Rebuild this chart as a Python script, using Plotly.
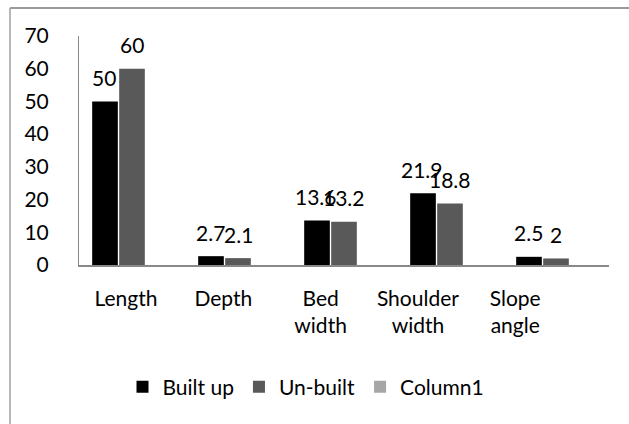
import plotly.graph_objects as go

categories = ["Length", "Depth", "Bed width", "Shoulder width", "Slope angle"]
built_up = [50, 2.7, 13.6, 21.9, 2.5]
un_built = [60, 2.1, 13.2, 18.8, 2]
column1 = [None, None, None, None, None]
y_ticks = [0, 10, 20, 30, 40, 50, 60, 70]

FONT = "Lato"
FS = 21
W, H = 629, 424
# target pixel positions in the screenshot (body margin removed by post_script)
PX_L, PX_R, PX_T, PX_B = 79, 609, 36, 265
L, T = PX_L, PX_T
R = W - PX_R
B = H - PX_B
pw, ph = W - L - R, H - T - B


def px_to_paper_x(px):
    return (px - PX_L) / pw


def px_to_paper_y(py):
    return (PX_B - py) / ph


fig = go.Figure()
fig.add_bar(name="Built up", x=categories, y=built_up, marker_color="#000000", marker_line_width=0)
fig.add_bar(name="Un-built", x=categories, y=un_built, marker_color="#595959", marker_line_width=0)
fig.add_bar(name="Column1", x=categories, y=column1, marker_color="#a6a6a6", marker_line_width=0)

# data labels
for vals, shift in ((built_up, -28), (un_built, 0)):
    for c, v in zip(categories, vals):
        fig.add_annotation(x=c, y=v, xref="x", yref="y", text=str(v), showarrow=False,
                           xshift=shift, yshift=24, yanchor="middle",
                           font=dict(family=FONT, size=FS, color="#000000"))

# category labels axis (slightly compressed spacing as in original)
k = 97.3
r0 = -(126 - PX_L) / k
fig.update_layout(
    xaxis2=dict(overlaying="x", anchor="y", side="bottom", type="linear",
                range=[r0, r0 + pw / k], tickmode="array",
                tickvals=list(range(len(categories))),
                ticktext=[c.replace(" ", "<br>") for c in categories],
                showline=False, showgrid=False, zeroline=False, ticks="",
                ticklabelstandoff=19, automargin=False,
                tickfont=dict(family=FONT, size=FS, color="#000000")),
)
fig.add_scatter(x=list(range(len(categories))), y=[None] * len(categories), xaxis="x2",
                showlegend=False, hoverinfo="skip", mode="markers")

fig.update_layout(
    width=W, height=H,
    margin=dict(l=L, r=R, t=T, b=B, autoexpand=False),
    paper_bgcolor="white", plot_bgcolor="white",
    barmode="group", bargap=0.236, bargroupgap=0.05,
    font=dict(family=FONT, size=FS, color="#000000"),
    xaxis=dict(type="category", range=[-0.5, len(categories) - 0.5], showticklabels=False,
               showline=True, linecolor="#898989", linewidth=1.5, ticks="", showgrid=False,
               automargin=False),
    yaxis=dict(range=[0, 70], tickmode="array", tickvals=y_ticks, showgrid=False,
               showline=True, linecolor="#898989", linewidth=1, ticks="", zeroline=False,
               ticklabelstandoff=25, automargin=False,
               tickfont=dict(family=FONT, size=FS, color="#000000")),
    legend=dict(orientation="h", x=px_to_paper_x(306), xanchor="center",
                y=px_to_paper_y(387), yanchor="middle",
                font=dict(family=FONT, size=FS, color="#000000"), traceorder="normal"),
    showlegend=True,
)

# chart border (left and top visible in original)
fig.add_shape(type="line", xref="paper", yref="paper",
              x0=px_to_paper_x(10), x1=px_to_paper_x(W + 30),
              y0=px_to_paper_y(8), y1=px_to_paper_y(8),
              line=dict(color="#9a9a9a", width=2), layer="above")
fig.add_shape(type="line", xref="paper", yref="paper",
              x0=px_to_paper_x(10), x1=px_to_paper_x(10),
              y0=px_to_paper_y(8), y1=px_to_paper_y(H + 30),
              line=dict(color="#a0a0a0", width=1.5), layer="above")

fig.write_html("out.html", config={"displayModeBar": False},
               post_script="document.body.style.margin='0';document.body.style.padding='0';")
